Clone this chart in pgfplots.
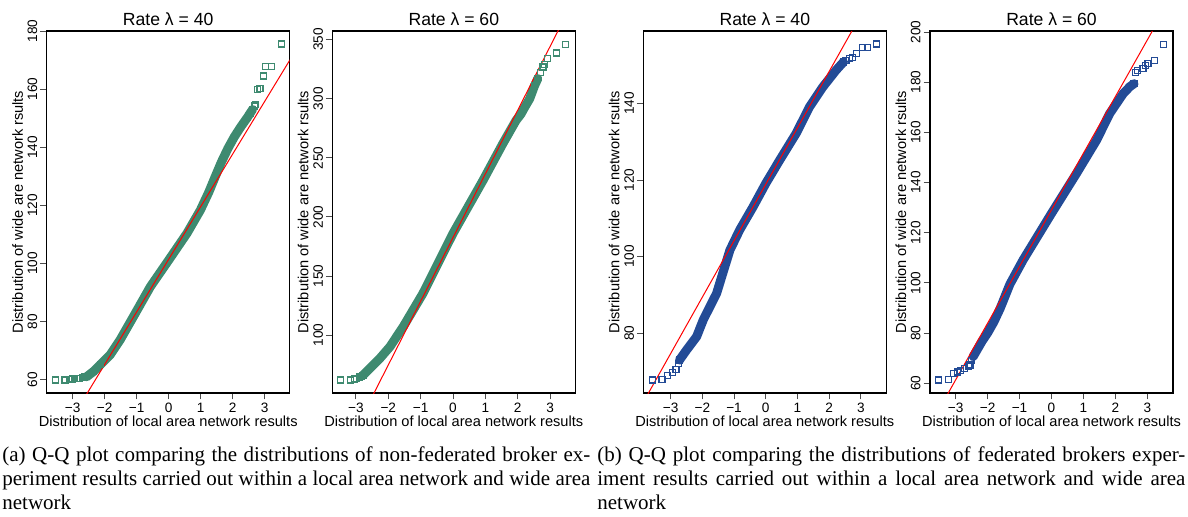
\documentclass[border=0pt]{standalone}
\usepackage{fontspec}
\setmainfont{Liberation Sans}
\newfontfamily\capfont{Liberation Serif}
\usepackage{pgfplots}
\pgfplotsset{compat=1.18}
\definecolor{teal1}{RGB}{62,138,112}
\definecolor{blue1}{RGB}{35,75,150}
\pgfplotsset{every axis title shift=0pt}
\pgfplotsset{qq/.style={
  scale only axis, width=121.5pt, height=181pt,
  xtick={-3,...,3}, xticklabels={−3,−2,−1,0,1,2,3},
  tick align=outside, major tick length=3.2pt,
  tick pos=left,
  tick style={black!70, line width=0.5pt},
  axis line style={line width=0.6pt},
  /pgf/number format/assume math mode=true,
  ticklabel style={font=\fontsize{6.8}{8}\selectfont, inner sep=0pt},
  xticklabel style={anchor=base, yshift=-6.45pt},
  yticklabel style={rotate=90, anchor=south},
  yticklabel shift=1.3pt,
  title style={font=\fontsize{8.8}{10}\selectfont, at={(axis description cs:0.5,1)}, anchor=base, yshift=2.8pt, inner sep=0pt},
  xlabel style={font=\fontsize{7.3}{8}\selectfont, at={(axis description cs:0.5,-0.0931)}, anchor=base, inner sep=0pt},
  ylabel style={font=\fontsize{7.3}{8}\selectfont, at={(axis description cs:-0.0963,0.5)}, anchor=south, inner sep=0pt},
  xlabel={Distribution of local area network results},
  ylabel={Distribution of wide are network rsults},
}}
\begin{document}
\begin{tikzpicture}
\useasboundingbox (0,0) rectangle (594pt,258pt);
% Panel 1
\begin{axis}[qq, at={(23.35pt,61.5pt)}, anchor=south west, title={Rate λ = 40},
  xmin=-3.81, xmax=3.78, ymin=55.5, ymax=180, ytick={60,80,...,180}]
\addplot[teal1, line width=4.5pt, line cap=round, line join=round, no marks] coordinates {
(-2.56,61.1) (-2.35,62.9) (-2.14,65.2) (-1.83,68.6) (-1.52,73.7) (-1.10,81.8) (-0.57,92.1) (0,101.2)
(0.57,110.4) (0.99,118.4) (1.25,124.5) (1.45,129.8) (1.65,135.0) (1.85,139.6) (2.05,143.6) (2.25,147.0) (2.46,150.3) (2.62,153.0)};
\addplot[teal1, only marks, mark=square, mark size=1.5pt, mark options={line width=0.6pt}] coordinates {
(-3.54,60.0) (-3.24,60.0) (-3.08,60.2) (-3.00,60.3) (-2.93,60.4) (-2.85,60.5) (-2.78,60.6) (-2.70,60.8) (-2.62,61.0)
(-2.56,61.1) (-2.35,62.9) (-2.14,65.2) (2.46,150.3) (2.55,151.6) (2.62,153.0) (2.68,154.2) (2.72,154.8)
(2.77,159.9) (2.85,160.2) (2.96,164.5) (3.03,167.9) (3.21,167.9) (3.52,175.5)};
\addplot[red, line width=0.5pt, no marks] coordinates {(-3.8,32.7) (3.8,170.3)};
\end{axis}
% Panel 2
\begin{axis}[qq, at={(166.15pt,61.5pt)}, anchor=south west, title={Rate λ = 60},
  xmin=-3.73, xmax=3.78, ymin=51, ymax=357.3, ytick={100,150,...,350}]
\addplot[teal1, line width=4.5pt, line cap=round, line join=round, no marks] coordinates {
(-2.78,66) (-2.57,71.8) (-2.26,80.3) (-1.95,90.1) (-1.54,107) (-0.93,135.2) (0,186) (0.93,231)
(1.54,262) (1.95,281.7) (2.10,287) (2.20,292) (2.37,300) (2.52,311) (2.62,317)};
\addplot[teal1, only marks, mark=square, mark size=1.5pt, mark options={line width=0.6pt}] coordinates {
(-3.47,62) (-3.16,62) (-3.05,62.8) (-2.98,63.5) (-2.90,64.5) (-2.84,65.2) (-2.78,66)
(2.52,311) (2.62,317) (2.70,322) (2.78,326.8) (2.84,329) (2.93,333.8) (3.19,338.6) (3.48,346)};
\addplot[red, line width=0.5pt, no marks] coordinates {(-3.8,-22.3) (3.8,387.3)};
\end{axis}
% Panel 3
\begin{axis}[qq, at={(321.65pt,61.5pt)}, anchor=south west, title={Rate λ = 40},
  xmin=-3.86, xmax=3.8, ymin=64.4, ymax=158.9, ytick={80,100,120,140}]
\addplot[blue1, line width=4.5pt, line cap=round, line join=round, no marks] coordinates {
(-2.72,73) (-2.49,75.7) (-2.18,79.1) (-1.97,83.5) (-1.55,90.4) (-1.29,97.4) (-1.13,101.7) (-0.82,107)
(-0.40,113) (0,119.1) (0.44,125.2) (0.96,132.2) (1.38,139.1) (1.80,144.3) (2.22,148.7) (2.45,150.8)};
\addplot[blue1, only marks, mark=square, mark size=1.5pt, mark options={line width=0.6pt}] coordinates {
(-3.58,67.8) (-3.27,68.0) (-3.09,68.9) (-2.95,69.8) (-2.83,70.6) (-2.75,72.0) (-2.72,73)
(2.45,150.8) (2.53,151.3) (2.65,151.8) (2.74,152.0) (2.85,153.0) (3.04,154.6) (3.21,154.6) (3.50,155.5)};
\addplot[red, line width=0.5pt, no marks] coordinates {(-3.9,61.4) (3.8,174.9)};
\end{axis}
% Panel 4
\begin{axis}[qq, at={(465pt,61.5pt)}, anchor=south west, title={Rate λ = 60},
  xmin=-3.8, xmax=3.8, ymin=56.1, ymax=200.4, ytick={60,80,...,200}]
\addplot[blue1, line width=4.5pt, line cap=round, line join=round, no marks] coordinates {
(-2.45,70.6) (-2.32,73.5) (-2.16,77.0) (-2.00,80.0) (-1.80,84.5) (-1.60,90.0) (-1.30,99.5) (-0.89,109.1)
(0,127.7) (0.78,143.6) (1.41,156.9) (1.82,167.5) (2.24,175.4) (2.45,178.2) (2.58,179.4)};
\addplot[blue1, only marks, mark=square, mark size=1.5pt, mark options={line width=0.6pt}] coordinates {
(-3.53,61.3) (-3.23,61.6) (-3.07,64.0) (-2.95,64.5) (-2.85,65.2) (-2.71,66.0) (-2.60,66.8) (-2.55,67.3) (-2.50,69.0)
(2.58,179.4) (2.62,184.0) (2.70,184.7) (2.86,185.4) (2.95,186.5) (3.02,187.4) (3.23,188.7) (3.51,195.1)};
\addplot[red, line width=0.5pt, no marks] coordinates {(-3.8,43.2) (3.8,215)};
\end{axis}
% Captions
\node[anchor=base west, inner sep=0pt] at (1pt,27.5pt) {\parbox[t]{294pt}{\capfont\fontsize{10.5}{12}\selectfont
\makebox[294pt][s]{(a) Q-Q plot comparing the distributions of non-federated broker ex-}\\
\makebox[294pt][s]{periment results carried out within a local area network and wide area}\\
network}};
\node[anchor=base west, inner sep=0pt] at (298.5pt,27.5pt) {\parbox[t]{294pt}{\capfont\fontsize{10.5}{12}\selectfont
\makebox[294pt][s]{(b) Q-Q plot comparing the distributions of federated brokers exper-}\\
\makebox[294pt][s]{iment results carried out within a local area network and wide area}\\
network}};
\end{tikzpicture}
\end{document}
